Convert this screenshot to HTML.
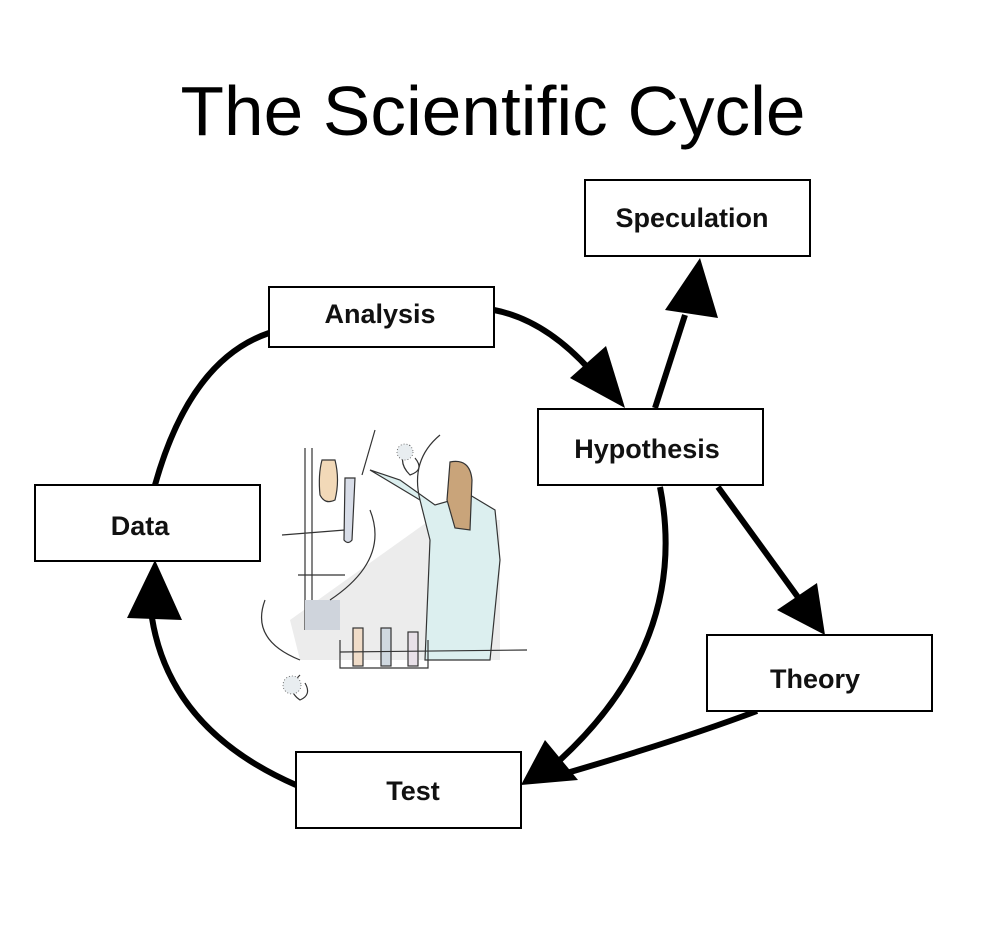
<!DOCTYPE html>
<html><head><meta charset="utf-8"><style>
html,body{margin:0;padding:0;background:#fff;width:998px;height:934px;overflow:hidden}
svg{display:block}
</style></head><body>
<svg width="998" height="934" viewBox="0 0 998 934" xmlns="http://www.w3.org/2000/svg">
<text x="493" y="135" text-anchor="middle" font-family="Liberation Sans, sans-serif" font-size="70" textLength="625" lengthAdjust="spacingAndGlyphs" fill="#000">The Scientific Cycle</text>

<!-- clipart -->
<g stroke="#333" stroke-width="1.2" fill="none">
<path d="M290 620 L430 520 L500 520 L500 660 L300 660 Z" fill="#ececec" stroke="none"/>
<path d="M370 470 L420 500 L430 540 L425 660 L490 660 L500 560 L495 510 L470 495 L435 505 L400 480 Z" fill="#dcefef"/>
<path d="M450 462 Q470 458 472 480 L470 530 L455 528 L447 500 Z" fill="#c9a47a"/>
<path d="M312 448 L312 630 M305 448 L305 630 M282 535 L345 530 M298 575 L345 575"/>
<path d="M322 460 Q318 475 320 495 Q325 505 335 500 Q340 480 335 460 Z" fill="#f2d9b8"/>
<path d="M345 478 L355 478 L352 540 Q348 545 344 540 Z" fill="#d8dde8"/>
<path d="M375 430 L362 475"/>
<path d="M305 600 L340 600 L340 630 L305 630 Z" fill="#cfd4dc" stroke="none"/>
<path d="M340 640 L340 668 L428 668 L428 640"/>
<rect x="353" y="628" width="10" height="38" fill="#f0dcc8"/>
<rect x="381" y="628" width="10" height="38" fill="#cfd8e0"/>
<rect x="408" y="632" width="10" height="34" fill="#e8e0e8"/>
<path d="M340 652 L527 650"/>
<path d="M410 445 Q395 460 410 475 Q425 470 415 458 M440 435 Q410 460 420 500"/>
<path d="M300 675 Q285 690 300 700 Q312 695 305 683 M265 600 Q250 640 300 660"/>
<path d="M370 510 Q390 560 330 600" />
</g>
<g fill="#e8edf0" stroke="#555" stroke-width="0.8" stroke-dasharray="1 2">
<circle cx="292" cy="685" r="9"/>
<circle cx="405" cy="452" r="8"/>
</g>

<g stroke="#000" stroke-width="6" fill="none" stroke-linecap="butt">
<path d="M494 310 Q545 320 590 370"/>
<path d="M655 408 L685 315"/>
<path d="M718 487 L800 600"/>
<path d="M660 487 Q690 640 560 760"/>
<path d="M757 711 Q680 740 560 775"/>
<path d="M296 785 Q170 730 152 618"/>
<path d="M155 485 Q190 360 269 333"/>
</g>
<g fill="#000">
<polygon points="625,408 570,378 606,346"/>
<polygon points="700,258 665,310 718,318"/>
<polygon points="825,635 777,610 817,583"/>
<polygon points="521,785 545,740 578,780"/>
<polygon points="155,560 127,618 182,620"/>
</g>

<g fill="#fff" stroke="#000" stroke-width="2">
<rect x="585" y="180" width="225" height="76"/>
<rect x="269" y="287" width="225" height="60"/>
<rect x="538" y="409" width="225" height="76"/>
<rect x="35" y="485" width="225" height="76"/>
<rect x="707" y="635" width="225" height="76"/>
<rect x="296" y="752" width="225" height="76"/>
</g>
<g font-family="Liberation Sans, sans-serif" font-weight="bold" font-size="27" text-anchor="middle" fill="#111">
<text x="692" y="227">Speculation</text>
<text x="380" y="323">Analysis</text>
<text x="647" y="458">Hypothesis</text>
<text x="140" y="535">Data</text>
<text x="815" y="688">Theory</text>
<text x="413" y="800">Test</text>
</g>
</svg>
</body></html>
